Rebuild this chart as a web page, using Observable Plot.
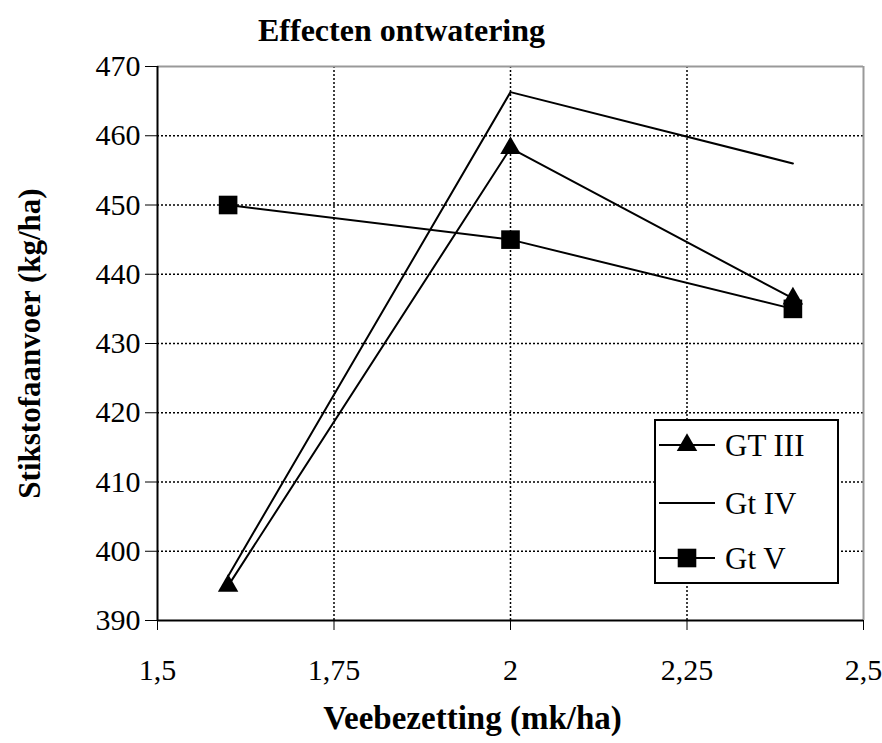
<!DOCTYPE html>
<html>
<head>
<meta charset="utf-8">
<script src="https://cdn.jsdelivr.net/npm/d3@7"></script>
<script src="https://cdn.jsdelivr.net/npm/@observablehq/plot@0.6"></script>
<style>
  html, body { margin: 0; padding: 0; background: #fff; }
  #chart { position: relative; width: 882px; height: 743px; }
  #chart svg, #chart svg text { font-family: "Liberation Serif", "Times New Roman", serif !important; }
  #legend { position: absolute; }
</style>
</head>
<body>
<div id="chart"></div>
<script>
// Veebezetting (mk/ha) and nitrogen supply (kg/ha) per drainage class
const veebezetting = [1.6, 2.0, 2.4];
const gtIII = [395, 458.2, 436.5];
const gtIV = [396.4, 466.3, 456];
const gtV = [450, 445, 435];

const seriesNames = ["GT III", "Gt IV", "Gt V"];
const seriesSymbols = ["triangle", null, "square"];

const xTicks = [1.5, 1.75, 2, 2.25, 2.5];
const yTicks = [390, 400, 410, 420, 430, 440, 450, 460, 470];

const titleText = "Effecten ontwatering";
const xLabel = "Veebezetting (mk/ha)";
const yLabel = "Stikstofaanvoer (kg/ha)";

const seriesValues = [gtIII, gtIV, gtV];
const rows = seriesNames.flatMap((name, i) =>
  veebezetting.map((x, j) => ({series: name, x, y: seriesValues[i][j], symbol: seriesSymbols[i]}))
);

const comma = d => String(d).replace(".", ",");

const chart = Plot.plot({
  width: 882,
  height: 743,
  marginLeft: 157,
  marginRight: 19,
  marginTop: 66,
  marginBottom: 123,
  style: {fontSize: "30px", color: "black", background: "white", overflow: "visible"},
  x: {domain: [1.5, 2.5], ticks: xTicks, tickFormat: comma, tickSize: 10, tickPadding: 28, label: null},
  y: {domain: [390, 470], ticks: yTicks, tickSize: 12, tickPadding: 5, label: null},
  marks: [
    // dotted gridlines
    Plot.ruleX(xTicks.slice(1, -1), {stroke: "black", strokeWidth: 1.5, strokeDasharray: "2,2"}),
    Plot.ruleY(yTicks.slice(1, -1), {stroke: "black", strokeWidth: 1.5, strokeDasharray: "2,2"}),
    // plot area border: gray on top/right, black axes left/bottom
    Plot.ruleY([470], {stroke: "#999", strokeWidth: 2}),
    Plot.ruleX([2.5], {stroke: "#999", strokeWidth: 2}),
    Plot.ruleX([1.5], {stroke: "black", strokeWidth: 2}),
    Plot.ruleY([390], {stroke: "black", strokeWidth: 2}),
    // series lines
    Plot.line(rows, {x: "x", y: "y", z: "series", stroke: "black", strokeWidth: 2}),
    // markers
    Plot.dot(rows.filter(d => d.symbol === "triangle"), {x: "x", y: "y", symbol: "triangle", r: 7.6, fill: "black", stroke: "none"}),
    Plot.dot(rows.filter(d => d.symbol === "square"), {x: "x", y: "y", symbol: "square", r: 10.5, fill: "black", stroke: "none"}),
    // titles
    Plot.text([titleText], {frameAnchor: "top-left", dx: 244, dy: -36, fontWeight: "bold", fontSize: 32, textAnchor: "middle", lineAnchor: "middle"}),
    Plot.text([xLabel], {frameAnchor: "bottom-left", dx: 315, dy: 98, fontWeight: "bold", fontSize: 33, textAnchor: "middle", lineAnchor: "middle"}),
    Plot.text([yLabel], {frameAnchor: "left", dx: -127, rotate: -90, fontWeight: "bold", fontSize: 31, textAnchor: "middle", lineAnchor: "middle"})
  ]
});

const container = document.getElementById("chart");
container.appendChild(chart);

// legend box
const lx = 655, ly = 420, lw = 183, lh = 163;
const legend = d3.select(container).append("svg")
  .attr("id", "legend")
  .attr("width", lw + 2).attr("height", lh + 2)
  .style("left", (lx - 1) + "px").style("top", (ly - 1) + "px");
legend.append("rect")
  .attr("x", 1).attr("y", 1).attr("width", lw).attr("height", lh)
  .attr("fill", "white").attr("stroke", "black").attr("stroke-width", 2);
const rowY = [26, 84, 139];
seriesNames.forEach((name, i) => {
  const g = legend.append("g").attr("transform", `translate(0,${rowY[i]})`);
  g.append("line").attr("x1", 5).attr("x2", 61).attr("stroke", "black").attr("stroke-width", 2);
  if (seriesSymbols[i]) {
    const sym = seriesSymbols[i] === "triangle" ? d3.symbolTriangle : d3.symbolSquare;
    const size = seriesSymbols[i] === "triangle" ? Math.PI * 7.6 * 7.6 : Math.PI * 10.5 * 10.5;
    g.append("path").attr("transform", "translate(33,0)").attr("d", d3.symbol(sym, size)()).attr("fill", "black");
  }
  g.append("text").attr("x", 71).attr("dy", "0.35em").attr("font-size", 31).text(name);
});
</script>
</body>
</html>
